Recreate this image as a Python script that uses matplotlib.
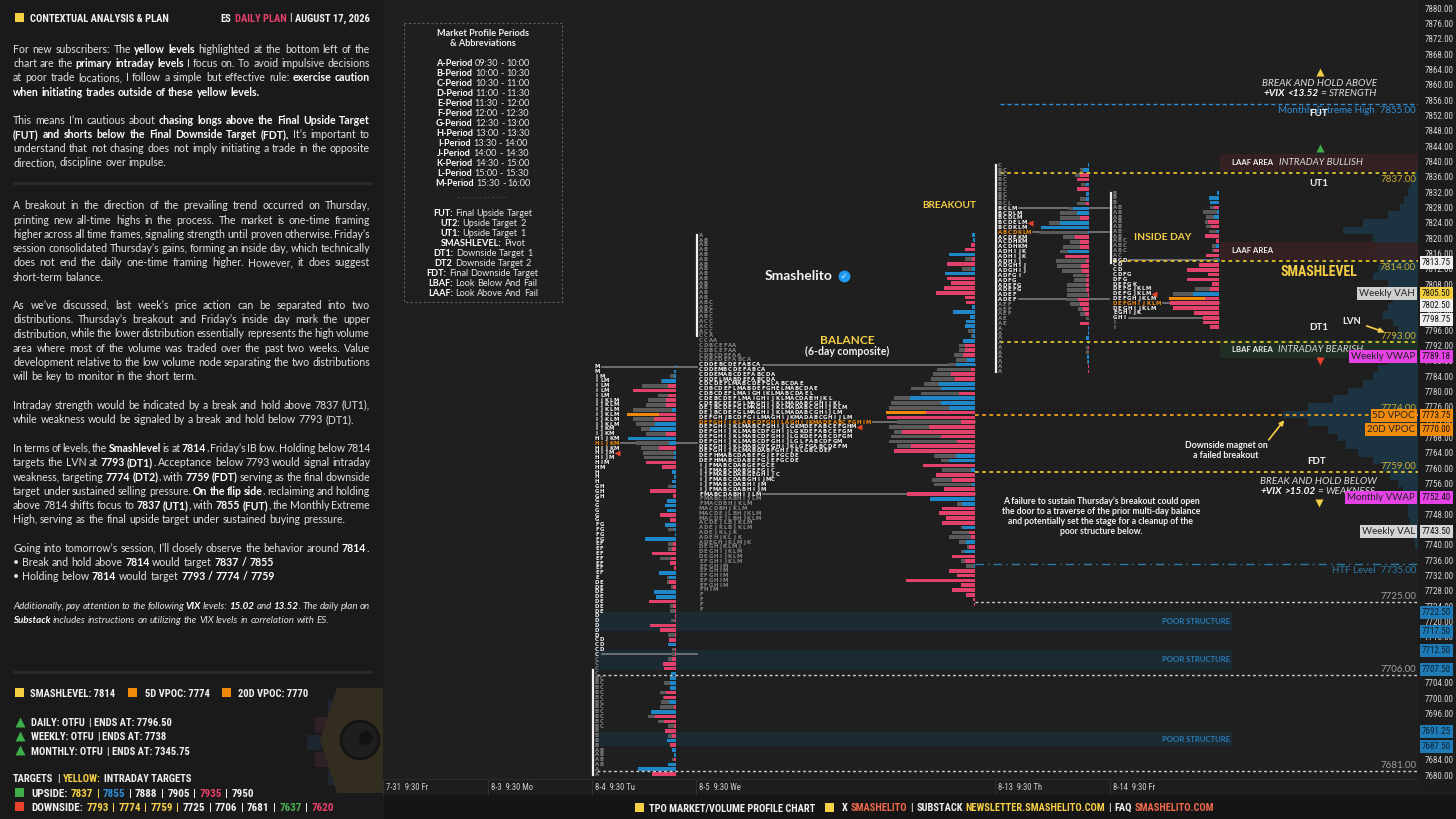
import matplotlib
matplotlib.use('Agg')
import matplotlib.pyplot as plt
import matplotlib.transforms as mtransforms
from matplotlib.patches import Rectangle, Polygon, Circle
from matplotlib.font_manager import FontProperties, fontManager

W, H = 1456, 819

# ---------------- data ----------------
price_ticks = list(range(7680, 7884, 4))

level_prices = [7855, 7837, 7814, 7793, 7774, 7759, 7735, 7725, 7706, 7681]
level_names = ['Monthly Extreme High', '', '', '', '', '', 'HTF Level', '', '', '']
level_kinds = ['blue', 'yellow', 'yellow', 'yellow', 'orange', 'yellow', 'htf', 'white', 'white', 'white']

tag_prices = [7813.75, 7805.50, 7802.50, 7798.75, 7789.18, 7773.75, 7770.00, 7752.40,
              7743.50, 7722.50, 7717.50, 7712.50, 7707.50, 7691.25, 7687.50]
tag_names = ['', 'Weekly VAH', '', '', 'Weekly VWAP', '5D VPOC', '20D VPOC', 'Monthly VWAP',
             'Weekly VAL', '', '', '', '', '', '']
tag_kinds = ['white', 'yellow', 'white', 'white', 'magenta', 'orange', 'orange', 'magenta',
             'grey', 'blue', 'blue', 'blue', 'blue', 'blue', 'blue']

zone_lo = [7837.5, 7814.3, 7788.7]
zone_hi = [7842.0, 7819.0, 7793.4]
zone_tags = ['LAAF AREA', 'LAAF AREA', 'LBAF AREA']
zone_titles = ['INTRADAY BULLISH', '', 'INTRADAY BEARISH']
zone_kinds = ['bull', 'bull', 'bear']

poor_lo = [7717.5, 7707.5, 7687.5]
poor_hi = [7722.5, 7712.5, 7691.25]

bg_prices = [7838, 7836, 7834, 7832, 7830, 7828, 7826, 7824, 7822, 7820, 7818, 7816, 7814,
             7812, 7810, 7808, 7806, 7804, 7802, 7800, 7798, 7796, 7794, 7792, 7790, 7788,
             7786, 7784, 7782, 7780, 7778, 7776, 7774, 7772, 7770, 7768, 7766, 7764, 7762,
             7760, 7758, 7756, 7754, 7752, 7750, 7748, 7746, 7744, 7742, 7740]
bg_volume = [2, 5, 8, 10, 14, 18, 30, 55, 75, 45, 40, 45, 35, 40, 45, 30, 20, 25, 30, 35,
             25, 20, 25, 22, 20, 30, 40, 45, 55, 70, 85, 110, 135, 110, 90, 80, 72, 60, 45,
             35, 28, 20, 15, 12, 10, 10, 8, 6, 4, 3]

# TPO rows (run-length: letters, number of rows), top row first
tpo_0804 = [('M', 2), ('IM', 1), ('ILM', 4), ('IJKLM', 6), ('IJKM', 2), ('HIJKM', 3), ('HIJM', 2),
            ('HIM', 1), ('HM', 1), ('H', 3), ('GH', 3), ('G', 5), ('FG', 4), ('EF', 7), ('E', 1),
            ('DE', 7), ('D', 5), ('CD', 3), ('C', 5), ('BC', 11), ('B', 4), ('AB', 4), ('A', 2)]
tpo_comp = ['A', 'AB', 'AB', 'AB', 'AB', 'AB', 'AB', 'AB', 'AB', 'AB', 'AB', 'AB', 'AB', 'AB',
            'ABC', 'ABC', 'ABC', 'ABC', 'ACC', 'ACC', 'ACC', 'CCA', 'CCAA',
            'CDBCEFAA', 'CDBCEFAA', 'CDBCDEFAA', 'CDBCDEFABCA',
            'CDDEBCDEFABCA', 'CDDEMBCDEFABCA', 'CDDEMABCDEFABCDA', 'CDDELMABDEFABCDA',
            'CDCDEFLMABCDEFGLABCDAE', 'CDBCDEFLMABDEFGHELMABCDAE', 'CDBCDEFLMAIGHIKLMABCDAEL',
            'CDEBCDEFLMAIGHIJKLMACDABHJKL', 'CDEBCDEFGLMAGHIJKLMADABCGHIJKL',
            'DEJBCDEFGLMAGHIJKLMADABCGHIJKLM', 'DEJBCDEFGLMAGHIJKLMADABCGHIJLM',
            'DEFGHJBCDFGILMAGHIJKMADABCGHIJLM',
            'DEFGHIJKLABCDFGHILAGHIJKMADEABCFGHIM',
            'DEFGHIJKLMABCFGHIJLGKMDEFABCEFGHM', 'DEFGHIJKLMABCDFGHIJLGKDEFABCEFGM',
            'DEFGHIJKLMABCDFGHIJLGKDEFABCDFGM', 'DEFGHIJKLMABCDFGHIJLGLFABCDFGM',
            'DEFGHIJKLMABCDFGHIJKLGFGABCDEFM', 'DEFGHIJKLMABDABFGHIJKLGBCDEF',
            'DEFHMABCDABEFGJEFGCDE', 'DEFHMABCDABEFGJEFGCDE',
            'IJFMABCDABGEFGCE', 'IJFMABCDABGEFGIC', 'IJFMABCDABGEGHIJC', 'IJFMABCDABGHIJMC',
            'IJFMABCDABHIJM', 'IJFMABCDABHIJM', 'FMABCDABHIJLM', 'FMABCDABHIJLM',
            'FMACDBHJKLM', 'MACDBHJKLM', 'MACDEJLBHJKLM', 'MACDEJLBHJKLM',
            'ACDEJLBJKLM', 'ADEJKLBJKLM', 'ADEJKLJK', 'ADEHJKLJK', 'ADEGHJKLMJK', 'DEGHJKLMJ',
            'DEGHIJKLM', 'DEGHIJKLM', 'EFGHIJKLM', 'EFGHIM', 'EFGHIM', 'EFGHIM', 'EFGHIM',
            'EFGHIM', 'FHIM', 'F', 'F', 'F', 'F']
tpo_0813 = [('C', 1), ('BC', 7), ('BCL', 1), ('BCLM', 1), ('BCDLM', 2), ('BCDELM', 1),
            ('BCDKLM', 1), ('ABCDKLM', 1), ('ACDEKM', 1), ('ACDHKM', 2), ('ADHIJK', 2),
            ('ADHIJ', 1), ('ADGHIJ', 2), ('ADFGI', 1), ('ADFG', 1), ('ADEFG', 2), ('ADEF', 2),
            ('AEF', 3), ('AE', 2), ('A', 10)]
tpo_0814 = [('B', 3), ('AB', 7), ('ABC', 3), ('AC', 1), ('BCD', 1), ('CD', 2), ('CDFG', 1),
            ('DFG', 1), ('DEFGK', 1), ('DEFGJKLM', 2), ('DEFGHJKLM', 1), ('DEFGHIJKLM', 1),
            ('DEGHIJKLM', 1), ('EGHIJK', 1), ('GHI', 1), ('I', 2)]

# volume profile rows (total volume, delta), top row first
vol_0804 = [1, 2, 6, 15, 34, 31, 18, 28, 30, 43, 49, 43, 40, 35, 30, 40, 40, 35, 33, 32,
            15, 2, 0, 0, 0, 8, 0, 0, 0, 0, 0, 0, 0, 0, 8, 0, 0, 8, 8, 0,
            16, 5, 0, 0, 9, 9, 5, 0, 5, 0, 6, 6, 0, 5, 0, 0, 8, 0, 0, 4,
            4, 8, 0, 0, 0, 0, 12, 0, 16, 13, 15, 16, 0, 28, 18, 8, 0, 8, 0, 0,
            0, 0, 4, 0, 0, 24]
dlt_0804 = [1, 2, 2, 14, -8, -43, -8, -10, -10, 4, -17, -22, 21, 26, -10, 48, 7, -17, 2, 2,
            -30, -14, 4, 2, 4, 3, -26, -3, 9, 11, 9, -16, -6, 11, 2, 1, 31, -3, -4, -24,
            -5, -6, -2, 17, 7, -7, -3, 22, 20, -27, -3, -1, -1, -1, -26, -16, -1, -7, 8, -1,
            -1, -4, -13, -12, 5, 6, 6, 6, -10, -12, 7, -2, 25, -21, -12, -2, -11, -4, 9, -6,
            4, 2, -2, 8, 38, -24]
vol_comp = [3, 2, 4, 10, 26, 10, 28, 13, 30, 28, 24, 31, 39, 10, 9, 3, 22, 5, 9, 10,
            7, 4, 12, 16, 16, 21, 19, 27, 38, 42, 44, 51, 64, 54, 81, 84, 86, 89, 86, 78,
            86, 81, 84, 86, 78, 68, 41, 34, 23, 33, 38, 43, 41, 31, 21, 11, 18, 16, 28, 23,
            18, 14, 23, 26, 16, 8, 14, 21, 14, 9, 8, 13, 8, 9, 4, 3, 1, 1]
dlt_comp = [3, 2, -4, -10, 26, -3, -28, 3, 30, -28, -24, -31, -39, -10, -9, 3, 22, 5, 9, 10,
            2, 2, 12, -10, -10, -12, 8, 19, -4, -24, -20, 36, 34, -16, 65, 34, 26, -49, -88, -14,
            -46, -73, -34, -18, -64, -81, 19, 26, -52, 4, -39, -23, 3, -31, -68, 45, 13, -33, -36, -29,
            -33, 12, -6, -4, 9, -6, 11, -23, -10, 1, -26, -18, -69, -14, -23, -9, -2, -1]
vol_0813 = [0, 9, 14, 0, 8, 0, 0, 9, 12, 21, 29, 29, 40, 48, 50, 26, 19, 26, 29, 24,
            33, 32, 27, 16, 15, 22, 22, 22, 23, 19, 11, 9, 3, 0, 0, 0, 3, 0, 3, 3,
            0, 2, 0, 0]
dlt_0813 = [1, 6, -9, -12, 3, -12, 3, 3, -3, 16, 12, -9, 29, 48, 1, -14, -9, -9, 21, -24,
            -3, -8, -7, -2, -3, -3, -3, -1, -11, -9, -6, -4, 0, -9, 1, 1, 3, 1, -1, 0,
            2, 1, -1, -1]
vol_0814 = [0, 0, 0, 9, 16, 13, 14, 13, 10, 0, 0, 7, 7, 7, 6, 0, 0, 0, 0, 0,
            24, 46, 50, 0, 0, 0, 0, 0, 0]
dlt_0814 = [2, 10, 9, -5, 2, 5, -11, -8, 2, -14, -3, 3, -5, -13, 1, -20, -32, -11, -32, -7,
            -9, 26, -14, -49, -46, -25, -16, -16, -9]

profile_top = [7786.5, 7820.75, 7839.0, 7831.75]
profile_vah = [7786.5, 7787.0, 7827.75, 7814.25]
profile_val = [7711.5, 7753.25, 7804.0, 7799.25]
profile_poc = [7766.5, 7772.0, 7821.5, 7803.0]
profile_ib_hi = [7707.5, 7820.75, 7839.0, 7831.75]
profile_ib_lo = [7680.0, 7794.5, 7785.0, 7813.5]
profile_mark = [18, 40, 12, 21]

date_labels = ['7-31  9:30 Fr', '8-3  9:30 Mo', '8-4  9:30 Tu', '8-5  9:30 We',
               '8-13  9:30 Th', '8-14  9:30 Fr']

period_letters = 'ABCDEFGHIJKLM'
period_times = ['09:30 - 10:00', '10:00 - 10:30', '10:30 - 11:00', '11:00 - 11:30',
                '11:30 - 12:00', '12:00 - 12:30', '12:30 - 13:00', '13:00 - 13:30',
                '13:30 - 14:00', '14:00 - 14:30', '14:30 - 15:00', '15:00 - 15:30',
                '15:30 - 16:00']
abbr_keys = ['FUT:', 'UT2:', 'UT1:', 'SMASHLEVEL:', 'DT1:', 'DT2', 'FDT:', 'LBAF:', 'LAAF:']
abbr_vals = ['Final Upside Target', 'Upside Target 2', 'Upside Target 1', 'Pivot',
             'Downside Target 1', 'Downside Target 2', 'Final Downside Target',
             'Look Below And Fail', 'Look Above And Fail']

smashlevel, vpoc5, vpoc20 = 7814, 7774, 7770
trend_tf = ['DAILY', 'WEEKLY', 'MONTHLY']
trend_state = ['OTFU', 'OTFU', 'OTFU']
trend_end = ['7796.50', '7738', '7345.75']
upside_targets = [7837, 7855, 7888, 7905, 7935, 7950]
upside_colors = ['yellow', 'blue', 'white', 'white', 'pink', 'white']
downside_targets = [7793, 7774, 7759, 7725, 7706, 7681, 7637, 7620]
downside_colors = ['yellow', 'yellow', 'yellow', 'white', 'white', 'white', 'green', 'pink']

paragraphs = [
    (49.0, True, False, [
        'For new subscribers: The *yellow levels* highlighted at the bottom left of the',
        'chart are the *primary intraday levels* I focus on. To avoid impulsive decisions',
        'at poor trade locations, I follow a simple but effective rule: *exercise caution*',
        '*when initiating trades outside of these yellow levels.*']),
    (120.0, True, False, [
        'This means I\u2019m cautious about *chasing longs above the Final Upside Target*',
        '*(FUT) and shorts below the Final Downside Target (FDT).* It\u2019s important to',
        'understand that not chasing does not imply initiating a trade in the opposite',
        'direction, discipline over impulse.']),
    (205.7, True, False, [
        'A breakout in the direction of the prevailing trend occurred on Thursday,',
        'printing new all-time highs in the process. The market is one-time framing',
        'higher across all time frames, signaling strength until proven otherwise. Friday\u2019s',
        'session consolidated Thursday\u2019s gains, forming an inside day, which technically',
        'does not end the daily one-time framing higher. However, it does suggest',
        'short-term balance.']),
    (305.0, True, False, [
        'As we\u2019ve discussed, last week\u2019s price action can be separated into two',
        'distributions. Thursday\u2019s breakout and Friday\u2019s inside day mark the upper',
        'distribution, while the lower distribution essentially represents the high volume',
        'area where most of the volume was traded over the past two weeks. Value',
        'development relative to the low volume node separating the two distributions',
        'will be key to monitor in the short term.']),
    (405.0, True, False, [
        'Intraday strength would be indicated by a break and hold above 7837 (UT1),',
        'while weakness would be signaled by a break and hold below 7793 (DT1).']),
    (448.3, True, False, [
        'In terms of levels, the *Smashlevel* is at *7814*, Friday\u2019s IB low. Holding below 7814',
        'targets the LVN at *7793 (DT1)*. Acceptance below 7793 would signal intraday',
        'weakness, targeting *7774 (DT2)*, with *7759 (FDT)* serving as the final downside',
        'target under sustained selling pressure. *On the flip side*, reclaiming and holding',
        'above 7814 shifts focus to *7837 (UT1)*, with *7855 (FUT)*, the Monthly Extreme',
        'High, serving as the final upside target under sustained buying pressure.']),
    (548.3, False, False, [
        'Going into tomorrow\u2019s session, I\u2019ll closely observe the behavior around *7814*.',
        '\u2022 Break and hold above *7814* would target *7837 / 7855*',
        '\u2022 Holding below *7814* would target *7793 / 7774 / 7759*']),
    (605.3, True, True, [
        'Additionally, pay attention to the following *VIX* levels: *15.02* and *13.52*. The daily plan on',
        '*Substack* includes instructions on utilizing the VIX levels in correlation with ES.']),
]

failure_note = ['A failure to sustain Thursday\u2019s breakout could open',
                'the door to a traverse of the prior multi-day balance',
                'and potentially set the stage for a cleanup of the',
                'poor structure below.']

# ---------------- layout / style ----------------
ROW, DX = 1.25, 4.77
LEVEL_X0 = [1000, 1000, 1113, 1000, 975, 975, 975, 975, 597, 597]
LEVEL_ABOVE = [False, False, False, True, True, True, False, True, True, True]
PROFILE_X = [597, 701, 1000, 1115]
PROFILE_RIGHT = [675.5, 974.5, 1089, 1219]
PROFILE_EXT = [697, 974.5, 1109, 1219]
PROFILE_VPOC = [True, True, False, True]
DATE_X = [386, 491, 595, 699, 998, 1113]

YEL, ORG, PINK, BLUE = '#f5cf45', '#f08a0c', '#e2416b', '#1f86c8'
CMAP = {'yellow': YEL, 'blue': '#2e8fd6', 'pink': '#e8406a', 'green': '#4cb050', 'white': '#f0f0f0'}

have = {f.name for f in fontManager.ttflist}
COND = next((n for n in ['Liberation Sans Narrow', 'Roboto Condensed', 'DejaVu Sans Condensed']
             if n in have), 'DejaVu Sans')
BODY = ['Lato', 'DejaVu Sans']
CH = ['Lato', 'DejaVu Sans']
BODY_SIZE = 7.6

_fps = {}


def fp(fam, size, bold=False, italic=False, stretch='normal'):
    key = (tuple(fam) if isinstance(fam, list) else fam, size, bold, italic, stretch)
    if key not in _fps:
        _fps[key] = FontProperties(family=fam, size=size, weight='bold' if bold else 'normal',
                                   style='italic' if italic else 'normal', stretch=stretch)
    return _fps[key]


def cfp(size, bold=True):
    return fp([COND, 'DejaVu Sans'], size, bold, False, 'condensed')


def unrle(rows):
    return [s for s, n in rows for _ in range(n)]


fig = plt.figure(figsize=(W / 100, H / 100), dpi=100, facecolor='#1c1c1c')
ax = fig.add_axes([384 / W, 1 - 779 / H, (1418 - 384) / W, 779 / H])
ax.set_xlim(384, 1418)
ax.set_ylim(7678.96, 7882.09)
ax.set_facecolor('#1f1f1f')
for s in ax.spines.values():
    s.set_visible(False)
ax.set_xticks([])
ax.yaxis.tick_right()
ax.set_yticks(price_ticks)
ax.set_yticklabels([f'{p:.2f}' for p in price_ticks])
ax.tick_params(axis='y', length=0, pad=5, labelcolor='#d4d4d4')
for lab in ax.get_yticklabels():
    lab.set_fontproperties(cfp(6.5, False))

ov = fig.add_axes([0, 0, 1, 1])
ov.set_xlim(0, W)
ov.set_ylim(H, 0)
ov.axis('off')

R = fig.canvas.get_renderer()


def tw(s, prop):
    return R.get_text_width_height_descent(s, prop, ismath=False)[0]


def space(prop):
    return tw('n n', prop) - tw('nn', prop)


def parse(line):
    words, cur, buf, bold = [], [], '', False
    for ch in line:
        if ch == '*':
            if buf:
                cur.append((buf, bold))
                buf = ''
            bold = not bold
        elif ch == ' ':
            if buf:
                cur.append((buf, bold))
                buf = ''
            if cur:
                words.append(cur)
                cur = []
        else:
            buf += ch
    if buf:
        cur.append((buf, bold))
    if cur:
        words.append(cur)
    return words


def rich(x, y, line, width=None, ha='left', italic=False, fam=BODY, size=BODY_SIZE,
         color='#e2e2e2', bcolor='#ffffff'):
    words = parse(line)
    meas = [[(s, b, tw(s, fp(fam, size, b, italic))) for s, b in wd] for wd in words]
    wsum = [sum(m[2] for m in wd) for wd in meas]
    sp = space(fp(fam, size, False, italic))
    nat = sum(wsum) + sp * (len(words) - 1)
    gap = sp
    if width is not None and len(words) > 1:
        gap = max((width - sum(wsum)) / (len(words) - 1), 1.5)
    if ha == 'center':
        x -= nat / 2
    cx = x
    for wd, ww in zip(meas, wsum):
        for s, b, w in wd:
            ov.text(cx, y, s, fontproperties=fp(fam, size, b, italic),
                    color=bcolor if b else color, ha='left', va='baseline', zorder=6)
            cx += w
        cx += gap


def seq(x, y, tokens, prop, ha='left', gap=None):
    ws = [tw(t, prop) for t, c in tokens]
    g = space(prop) * 1.3 if gap is None else gap
    total = sum(ws) + g * (len(tokens) - 1)
    if ha == 'right':
        x -= total
    for (t, c), w in zip(tokens, ws):
        ov.text(x, y, t, fontproperties=prop, color=c, ha='left', va='baseline', zorder=6)
        x += w + g


def sq(x, y, color, s=9):
    ov.add_patch(Rectangle((x, y - s / 2), s, s, fc=color, ec='none', zorder=6))


# ---------------- chart body ----------------
ax.barh(bg_prices, bg_volume, left=[1418 - v for v in bg_volume], height=2.0,
        color='#1c3441', zorder=0.3)

for lo, hi, kind in zip(zone_lo, zone_hi, zone_kinds):
    ax.add_patch(Rectangle((1220, lo), 198, hi - lo, fc='#3a2223' if kind == 'bull' else '#1f3124',
                           ec='none', alpha=0.85, zorder=0.5))
for lo, hi in zip(poor_lo, poor_hi):
    ax.add_patch(Rectangle((597, lo), 635, hi - lo, fc='#1b2a33', ec='none', zorder=0.4))
    ax.text(1196, (lo + hi) / 2, 'POOR STRUCTURE', color='#2a7db5', fontproperties=fp(CH, 5.6, True),
            ha='center', va='center', zorder=1)

tpos = [unrle(tpo_0804), tpo_comp, unrle(tpo_0813), unrle(tpo_0814)]
vols = [vol_0804, vol_comp, vol_0813, vol_0814]
dlts = [dlt_0804, dlt_comp, dlt_0813, dlt_0814]

for k in range(4):
    rows, top, x0 = tpos[k], profile_top[k], PROFILE_X[k]
    rp = [top - i * ROW for i in range(len(rows))]
    for p, row in zip(rp, rows):
        if abs(p - profile_poc[k]) < 0.1:
            c = ORG
        elif profile_val[k] - 0.1 <= p <= profile_vah[k] + 0.1:
            c = '#f0f0f0'
        else:
            c = '#858585'
        for j, ch in enumerate(row):
            ax.text(x0 + j * DX, p, ch, color=c, fontsize=3.9, fontweight='bold',
                    family='DejaVu Sans', ha='center', va='center', zorder=4)
    m = profile_mark[k]
    ax.plot(x0 + len(rows[m]) * DX + 1, rp[m], marker='<', ms=4, color='#e8412c',
            mec='none', zorder=4)
    ax.plot([x0 - 4, x0 - 4], [profile_ib_lo[k], profile_ib_hi[k]], color='#f0f0f0',
            lw=1.6, zorder=4)
    right = PROFILE_RIGHT[k]
    v, d = vols[k], dlts[k]
    vp = [top - i * ROW for i in range(len(v))]
    vc = ['#5a5a5a'] * len(v)
    if PROFILE_VPOC[k]:
        vc[v.index(max(v))] = ORG
    ax.barh(vp, v, left=[right - a for a in v], height=0.95, color=vc, zorder=2)
    ax.barh(vp, [abs(a) for a in d], left=[right - abs(a) for a in d], height=0.95,
            color=[PINK if a < 0 else BLUE for a in d], zorder=2.5)
    for p in (profile_vah[k], profile_poc[k], profile_val[k]):
        i = round((top - p) / ROW)
        ax.plot([x0 + len(rows[i]) * DX, PROFILE_EXT[k]], [p, p], color='#7c7c7c', lw=1.2,
                zorder=1.5)

KIND = {'blue': ('#2f8fd8', (0, (3, 2)), 1.0, '#2f8fd8'),
        'yellow': ('#e3c02c', (0, (2, 2)), 1.3, '#cdae34'),
        'orange': ('#f2a21c', (0, (2, 2)), 1.3, '#cdae34'),
        'htf': ('#2a7aa8', (0, (6, 3, 1, 3)), 1.0, '#2a7aa8'),
        'white': ('#cfcfcf', (0, (2, 2)), 1.0, '#a0a0a0')}
for p, n, kd, x0, above in zip(level_prices, level_names, level_kinds, LEVEL_X0, LEVEL_ABOVE):
    col, ls, lw, lc = KIND[kd]
    ax.plot([x0, 1418], [p, p], color=col, ls=ls, lw=lw, zorder=3)
    lab = f'{n}  {p:.2f}' if n else f'{p:.2f}'
    ax.annotate(lab, xy=(1416, p), xytext=(0, 4 if above else -4.5), textcoords='offset points',
                ha='right', va='center', color=lc, fontproperties=fp(BODY, 7.0), zorder=5)

bt = mtransforms.blended_transform_factory(ov.transData, ax.transData)
TAGC = {'white': '#efefef', 'yellow': '#f3cf3f', 'magenta': '#e543e5', 'orange': ORG,
        'grey': '#d4d4d4', 'blue': '#1f7bb6'}
NAMEC = {'yellow': '#cfcfcf', 'grey': '#d4d4d4', 'magenta': '#e543e5', 'orange': ORG}
for p, n, kd in zip(tag_prices, tag_names, tag_kinds):
    ov.text(1422, p, f'{p:.2f}', transform=bt, ha='left', va='center', fontproperties=cfp(6.5, False),
            color='#0b2233' if kd == 'blue' else '#111111', zorder=7,
            bbox=dict(boxstyle='square,pad=0.22', fc=TAGC[kd], ec='none'))
    if n:
        ov.text(1415, p, n, transform=bt, ha='right', va='center', fontproperties=fp(BODY, 7.0),
                color='#222222', zorder=7, bbox=dict(boxstyle='square,pad=0.2', fc=NAMEC[kd], ec='none'))

# zone texts
for lo, hi, tg, tt in zip(zone_lo, zone_hi, zone_tags, zone_titles):
    ax.text(1232, (lo + hi) / 2, tg, color='#eeeeee', fontproperties=fp(CH, 5.6, True),
            ha='left', va='center', zorder=5)
    if tt:
        ax.text(1321, (lo + hi) / 2, tt, color='#d8d8d8', fontproperties=fp(BODY, 7.0, False, True),
                ha='center', va='center', zorder=5)

# ---------------- chart annotations (pixel space) ----------------
for x, y, mk, c in [(1320, 72, '^', YEL), (1320, 148, '^', '#3fae49'), (1320, 361, 'v', '#e8412c'),
                    (1319, 503, 'v', YEL)]:
    ov.plot(x, y, marker=mk, ms=6, color=c, mec='none', zorder=6)
ov.text(1320, 84, 'BREAK AND HOLD ABOVE', color='#dcdcdc', fontproperties=fp(BODY, 7.2, False, True),
        ha='center', va='center')
rich(1320, 96.5, '*+VIX <13.52* = STRENGTH', ha='center', italic=True, size=7.2, color='#dcdcdc')
ov.text(1318, 481, 'BREAK AND HOLD BELOW', color='#dcdcdc', fontproperties=fp(BODY, 7.2, False, True),
        ha='center', va='center')
rich(1318, 494, '*+VIX >15.02* = WEAKNESS', ha='center', italic=True, size=7.2, color='#dcdcdc')
for txt, x, y in [('FUT', 1319, 113), ('UT1', 1319, 183), ('DT1', 1319, 328), ('FDT', 1317, 462)]:
    ov.text(x, y, txt, color='#f2f2f2', fontproperties=fp(CH, 7.0, True), ha='center', va='center')
ov.text(1319, 272, 'SMASHLEVEL', color=YEL, fontproperties=cfp(10), ha='center', va='center')
ov.text(1352, 322, 'LVN', color='#f2f2f2', fontproperties=fp(CH, 6.8, True), ha='center', va='center')
ov.annotate('', xy=(1387, 333), xytext=(1364, 325),
            arrowprops=dict(arrowstyle='-|>', color=YEL, lw=1.2, mutation_scale=7))
ov.text(1226, 446, 'Downside magnet on', color='#f2f2f2', fontproperties=fp(CH, 6.3, True),
        ha='center', va='center')
ov.text(1226, 456, 'a failed breakout', color='#f2f2f2', fontproperties=fp(CH, 6.3, True),
        ha='center', va='center')
ov.annotate('', xy=(1286, 418), xytext=(1267, 442),
            arrowprops=dict(arrowstyle='-|>', color=YEL, lw=1.2, mutation_scale=7))
for i, line in enumerate(failure_note):
    ov.text(1101, 501 + i * 10.3, line, color='#f2f2f2', fontproperties=fp(CH, 6.2, True),
            ha='center', va='center')
ov.text(799, 276, 'Smashelito', color='#f4f4f4', fontproperties=fp(CH, 10, True), ha='center', va='center')
ov.plot(844, 276, marker='o', ms=8.5, color='#1d9bf0', mec='none', zorder=6)
ov.text(844, 276.5, '\u2713', color='white', fontsize=5.5, fontweight='bold', ha='center',
        va='center', zorder=7, family='DejaVu Sans')
ov.text(847, 340, 'BALANCE', color=YEL, fontproperties=fp(CH, 8.6, True), ha='center', va='center')
ov.text(847, 351, '(6-day composite)', color='#f2f2f2', fontproperties=fp(CH, 7.6, True),
        ha='center', va='center')
ov.text(949, 205, 'BREAKOUT', color=YEL, fontproperties=fp(CH, 7.2, True), ha='center', va='center')
ov.text(1163, 237, 'INSIDE DAY', color=YEL, fontproperties=fp(CH, 7.4, True), ha='center', va='center')

# legend box
ov.add_patch(Rectangle((404, 23), 158, 279, fc='none', ec='#5e5e5e', lw=0.8, ls=(0, (2, 2))))
ov.text(483, 34, 'Market Profile Periods', color='#f0f0f0', fontproperties=fp(CH, 6.6, True),
        ha='center', va='center')
ov.text(483, 44, '& Abbreviations', color='#f0f0f0', fontproperties=fp(CH, 6.6, True),
        ha='center', va='center')
for i, (l, t) in enumerate(zip(period_letters, period_times)):
    rich(483, 66.5 + i * 10, f'*{l}-Period* {t}', ha='center', fam=CH, size=6.6, color='#e8e8e8')
ov.text(483, 197.5, '- - - - - - - - - - - -', color='#777777', fontsize=4.5, ha='center', va='center')
for i, (a, b) in enumerate(zip(abbr_keys, abbr_vals)):
    rich(483, 216.5 + i * 10, f'*{a}* {b}', ha='center', fam=CH, size=6.6, color='#e8e8e8')

# date row and bottom bar
ov.add_patch(Rectangle((384, 779), 1034, 16, fc='#1d1d1d', ec='none'))
ov.plot([384, 1418], [779, 779], color='#2b2b2b', lw=0.8)
for x, lab in zip(DATE_X, date_labels):
    ov.plot([x - 3, x - 3], [779, 795], color='#2e2e2e', lw=0.8)
    ov.text(x, 790, lab, color='#cfcfcf', fontproperties=cfp(6.2, False), ha='left', va='baseline')
ov.add_patch(Rectangle((384, 795), 1072, 24, fc='#151515', ec='none'))
sq(635, 807, YEL)
seq(649, 811, [('TPO MARKET/VOLUME PROFILE CHART', '#f0f0f0')], cfp(7.5))
sq(825, 807, YEL)
seq(842, 811, [('X', '#f0f0f0'), ('SMASHELITO', '#f0694a'), ('|', '#f0f0f0'), ('SUBSTACK', '#f0f0f0'),
               ('NEWSLETTER.SMASHELITO.COM', YEL), ('|', '#f0f0f0'), ('FAQ', '#f0f0f0'),
               ('SMASHELITO.COM', '#f0694a')], cfp(7.5))

# ---------------- left panel ----------------
ov.add_patch(Rectangle((0, 0), 383, H, fc='#1a1a1a', ec='none', zorder=0))
sq(15, 17, YEL)
seq(30, 21.5, [('CONTEXTUAL ANALYSIS & PLAN', '#f4f4f4')], cfp(7.6))
seq(370, 21.5, [('ES', '#f4f4f4'), ('DAILY PLAN', '#e8406a'), ('|', '#f4f4f4'),
                ('AUGUST 17, 2026', '#f4f4f4')], cfp(7.6), ha='right')

for y0, just, ital, lines in paragraphs:
    for i, line in enumerate(lines):
        last = i == len(lines) - 1
        rich(13, y0 + i * 14.3 + 3.6, line, width=357 if (just and not last) else None, italic=ital,
             size=7.0 if ital else BODY_SIZE)
for y in (183, 672):
    ov.plot([14, 370], [y, y], color='#2c2c2c', lw=2)

# mascot decoration
for (x, y, c) in [(328, 700, '#1c2530'), (315, 717, '#2e2026'), (307, 735, '#1c2530'),
                  (315, 752, '#2e2026'), (328, 770, '#1c2530')]:
    ov.add_patch(Rectangle((x, y), 14, 15, fc=c, ec='none', zorder=1))
ov.add_patch(Polygon([(320, 740), (337, 688), (383, 688), (383, 793), (337, 793)], closed=True,
                     fc='#332d20', ec='none', zorder=1.5))
ov.add_patch(Circle((360, 740), 19, fc='#1e1e1e', ec='#141414', lw=2, zorder=2))
ov.add_patch(Circle((366, 738), 7, fc='#121212', ec='none', zorder=2.1))

sq(15, 692.7, YEL)
seq(30, 697, [(f'SMASHLEVEL: {smashlevel}', '#f0f0f0')], cfp(7.6))
sq(128, 692.7, ORG)
seq(145, 697, [(f'5D VPOC: {vpoc5}', '#f0f0f0')], cfp(7.6))
sq(222, 692.7, ORG)
seq(238, 697, [(f'20D VPOC: {vpoc20}', '#f0f0f0')], cfp(7.6))
for i, (tf, st, e) in enumerate(zip(trend_tf, trend_state, trend_end)):
    y = 721.7 + i * 14.3
    ov.plot(20, y, marker='^', ms=7, color='#3fae49', mec='none', zorder=6)
    seq(31, y + 4.3, [(f'{tf}: {st}', '#f0f0f0'), ('|', '#f0f0f0'), (f'ENDS AT: {e}', '#f0f0f0')], cfp(7.6))
seq(13, 782, [('TARGETS', '#f0f0f0'), ('|', '#f0f0f0'), ('YELLOW:', YEL), ('INTRADAY TARGETS', '#f0f0f0')],
    cfp(7.6), gap=3.5)
for y, col, name, vals, cols in [(792.7, '#3fae49', 'UPSIDE:', upside_targets, upside_colors),
                                  (806.7, '#e8412c', 'DOWNSIDE:', downside_targets, downside_colors)]:
    sq(15, y, col)
    toks = [(name, '#f0f0f0')]
    for j, (v, c) in enumerate(zip(vals, cols)):
        toks.append((str(v), CMAP[c]))
        if j < len(vals) - 1:
            toks.append(('|', YEL if c == 'yellow' else '#f0f0f0'))
    seq(31, y + 4.3, toks, cfp(8))

fig.savefig('out.png', dpi=100, facecolor=fig.get_facecolor())
